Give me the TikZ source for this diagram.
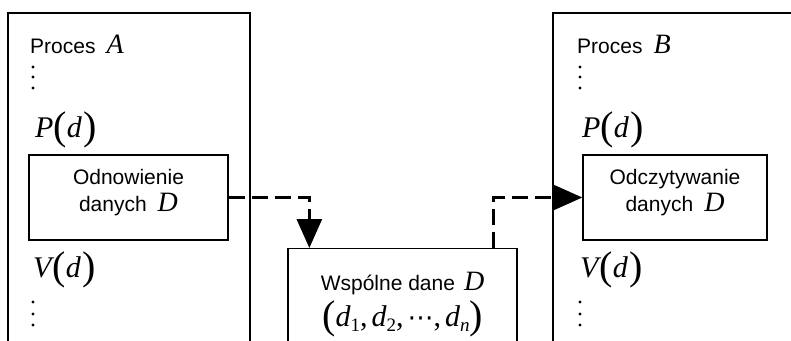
\documentclass[tikz,border=0pt]{standalone}
\usepackage{fontspec}
\setmainfont{Liberation Sans}
\newfontfamily\tnr{Liberation Serif}
\newfontfamily\djv{DejaVu Sans}
\usetikzlibrary{arrows.meta,positioning,calc}
% math-like letters in Times style
\newcommand{\mv}[1]{{\tnr\itshape\fontsize{28bp}{30bp}\selectfont #1}}
\newcommand{\mvb}[1]{{\tnr\itshape\fontsize{30bp}{32bp}\selectfont #1}}
\newcommand{\bpar}[1]{\raisebox{-2bp}{\tnr\fontsize{40bp}{40bp}\selectfont #1}}
\newcommand{\sbs}[1]{\raisebox{-5bp}{\tnr\fontsize{19bp}{19bp}\selectfont #1}}
\newcommand{\cma}{{\tnr\fontsize{30bp}{30bp}\selectfont ,}\hspace{4bp}}
\tikzset{
    procbox/.style={line width=1.3bp, black},
    databox/.style={rectangle, draw, line width=1.3bp, inner sep=0pt, align=center, font=\fontsize{21bp}{27bp}\selectfont},
    lbl/.style={inner sep=0pt, anchor=base west, font=\fontsize{21bp}{25bp}\selectfont},
    flow/.style={line width=3bp, dash pattern=on 16bp off 7bp, -{Triangle[length=29bp,width=25bp]}},
}

\begin{document}
\begin{tikzpicture}[x=1bp, y=1bp]
    \useasboundingbox (0,0) rectangle (791,340);
    \clip (0,0) rectangle (791,340);

    % process frames (open at the bottom)
    \draw[procbox] (8,-10) |- (250,327) -- (250,-10);
    \draw[procbox] (553,-10) |- (800,327);

    % process columns
    \foreach \x/\nm in {30/A, 577/B} {
        \node[lbl] (proc\nm) at (\x,287) {Proces\hspace{11bp}\mv{\nm}};
        \node[lbl] (pd\nm) at (\x+5,203) {\mvb{P}\bpar{(}\mvb{d}\hspace{2bp}\bpar{)}};
        \node[lbl] (vd\nm) at (\x+3,63) {\mvb{V}\hspace{1bp}\bpar{(}\mvb{d}\hspace{2bp}\bpar{)}};
        \foreach \y in {273,263,252,38,26,15}
            \fill (\x+3,\y) circle (1.6bp);
    }

    % data boxes
    \node[databox, minimum width=199bp, minimum height=85bp, text depth=14bp] (upd) at (128.5,142.5) {Odnowienie\\danych\hspace{11bp}\mv{D}};
    \node[databox, minimum width=184bp, minimum height=85bp, text depth=14bp] (rd) at (675,142.5) {Odczytywanie\\danych\hspace{11bp}\mv{D}};
    \node[databox, minimum width=229bp, minimum height=112bp, anchor=north, font=\fontsize{21bp}{36bp}\selectfont] (shared) at (402.5,92)
        {Wsp\'olne dane\hspace{9bp}\mv{D}\\\bpar{(}\mvb{d}\sbs{1}\cma\mvb{d}\sbs{2}\cma{\djv\fontsize{26bp}{26bp}\selectfont ⋯}\cma\mvb{d}\sbs{\itshape n}\bpar{)}};

    % write / read
    \draw[flow] (upd.east) -| ($(shared.north west)+(22,0)$);
    \draw[flow] ($(shared.north east)+(-24,0)$) |- (rd.west);
\end{tikzpicture}
\end{document}
